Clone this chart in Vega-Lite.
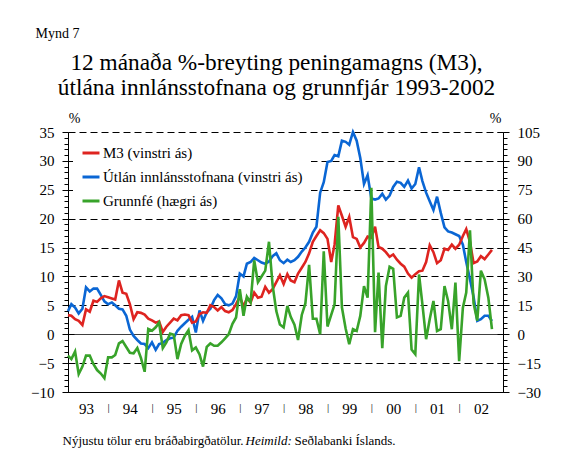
{
  "$schema": "https://vega.github.io/schema/vega-lite/v6.json",
  "width": 435,
  "height": 260,
  "autosize": {"type": "none"},
  "padding": {"left": 68, "top": 132, "right": 59, "bottom": 63},
  "background": "white",
  "title": {
    "text": ["12 mánaða %-breyting peningamagns (M3),", "útlána innlánsstofnana og grunnfjár 1993-2002"],
    "font": "Liberation Serif",
    "fontSize": 23.3,
    "fontWeight": "normal",
    "color": "black",
    "anchor": "middle",
    "frame": "group",
    "lineHeight": 25,
    "dx": -9,
    "dy": 74,
    "offset": 0
  },
  "config": {
    "font": "Liberation Serif",
    "view": {"stroke": null},
    "axis": {
      "labelFont": "Liberation Serif",
      "titleFont": "Liberation Serif",
      "labelColor": "black",
      "titleColor": "black",
      "domainColor": "black",
      "tickColor": "black",
      "labelFontSize": 15,
      "titleFontWeight": "normal",
      "labelOverlap": false,
      "labelFlush": false,
      "labelBound": false
    }
  },
  "data": {
    "values": [
      {"d":"1993-02-01","u":4.0,"m":3.3,"g":-11.1},
      {"d":"1993-03-01","u":5.2,"m":3.2,"g":-12.9},
      {"d":"1993-04-01","u":4.6,"m":2.6,"g":-9},
      {"d":"1993-05-01","u":3.6,"m":2.3,"g":-20.7},
      {"d":"1993-06-01","u":4.4,"m":1.6,"g":-16.8},
      {"d":"1993-07-01","u":8.1,"m":4.3,"g":-11.1},
      {"d":"1993-08-01","u":7.4,"m":3.9,"g":-11.1},
      {"d":"1993-09-01","u":7.9,"m":5.8,"g":-15.6},
      {"d":"1993-10-01","u":7.9,"m":5.6,"g":-18.6},
      {"d":"1993-11-01","u":6.8,"m":6.2,"g":-20.4},
      {"d":"1993-12-01","u":5.7,"m":6.6,"g":-22.8},
      {"d":"1994-01-01","u":5.2,"m":6.4,"g":-12},
      {"d":"1994-02-01","u":5.5,"m":6.2,"g":-12},
      {"d":"1994-03-01","u":5.0,"m":6.0,"g":-10.8},
      {"d":"1994-04-01","u":4.4,"m":9.3,"g":-4.8},
      {"d":"1994-05-01","u":4.3,"m":7.2,"g":-3.6},
      {"d":"1994-06-01","u":3.2,"m":7.0,"g":-6.6},
      {"d":"1994-07-01","u":0.8,"m":5.2,"g":-9.6},
      {"d":"1994-08-01","u":-0.3,"m":2.6,"g":-9.9},
      {"d":"1994-09-01","u":-1.0,"m":3.8,"g":-7.2},
      {"d":"1994-10-01","u":-1.6,"m":3.7,"g":-12.3},
      {"d":"1994-11-01","u":-1.7,"m":3.4,"g":-19.5},
      {"d":"1994-12-01","u":-2.4,"m":2.7,"g":2.7},
      {"d":"1995-01-01","u":-1.4,"m":2.4,"g":1.8},
      {"d":"1995-02-01","u":-2.7,"m":2.0,"g":3.6},
      {"d":"1995-03-01","u":-1.7,"m":2.2,"g":6},
      {"d":"1995-04-01","u":-1.5,"m":0.4,"g":-7.2},
      {"d":"1995-05-01","u":-1.0,"m":1.3,"g":-4.2},
      {"d":"1995-06-01","u":-0.7,"m":2.0,"g":0.3},
      {"d":"1995-07-01","u":-0.6,"m":2.7,"g":-0.3},
      {"d":"1995-08-01","u":0.6,"m":2.4,"g":-12.9},
      {"d":"1995-09-01","u":1.3,"m":3.3,"g":-5.1},
      {"d":"1995-10-01","u":1.9,"m":3.4,"g":-0.9},
      {"d":"1995-11-01","u":2.5,"m":3.3,"g":2.1},
      {"d":"1995-12-01","u":3.0,"m":2.0,"g":-8.4},
      {"d":"1996-01-01","u":0.3,"m":2.2,"g":-6.9},
      {"d":"1996-02-01","u":4.1,"m":3.5,"g":-10.5},
      {"d":"1996-03-01","u":2.3,"m":3.8,"g":-16.8},
      {"d":"1996-04-01","u":3.8,"m":3.7,"g":-6.6},
      {"d":"1996-05-01","u":4.4,"m":5.0,"g":-4.8},
      {"d":"1996-06-01","u":5.9,"m":4.7,"g":-6},
      {"d":"1996-07-01","u":6.8,"m":4.1,"g":-6},
      {"d":"1996-08-01","u":6.2,"m":4.7,"g":-4.2},
      {"d":"1996-09-01","u":5.2,"m":4.0,"g":-2.1},
      {"d":"1996-10-01","u":5.0,"m":3.8,"g":0},
      {"d":"1996-11-01","u":5.3,"m":4.2,"g":5.4},
      {"d":"1996-12-01","u":6.6,"m":5.2,"g":8.7},
      {"d":"1997-01-01","u":10.5,"m":6.5,"g":23.4},
      {"d":"1997-02-01","u":10.0,"m":4.8,"g":9.6},
      {"d":"1997-03-01","u":12.2,"m":6.2,"g":19.5},
      {"d":"1997-04-01","u":12.5,"m":5.5,"g":16.5},
      {"d":"1997-05-01","u":13.2,"m":7.2,"g":38.4},
      {"d":"1997-06-01","u":12.8,"m":6.3,"g":27},
      {"d":"1997-07-01","u":12.4,"m":6.5,"g":30},
      {"d":"1997-08-01","u":12.2,"m":8.2,"g":33},
      {"d":"1997-09-01","u":12.6,"m":7.2,"g":48},
      {"d":"1997-10-01","u":13.5,"m":7.8,"g":25.5},
      {"d":"1997-11-01","u":14.0,"m":9.0,"g":12},
      {"d":"1997-12-01","u":12.8,"m":10.2,"g":5},
      {"d":"1998-01-01","u":12.3,"m":8.7,"g":3.5},
      {"d":"1998-02-01","u":12.9,"m":10.4,"g":14.7},
      {"d":"1998-03-01","u":12.5,"m":9.3,"g":9},
      {"d":"1998-04-01","u":12.8,"m":9.0,"g":5},
      {"d":"1998-05-01","u":13.4,"m":10.5,"g":-3},
      {"d":"1998-06-01","u":14.3,"m":11.5,"g":10},
      {"d":"1998-07-01","u":15.0,"m":12.5,"g":16},
      {"d":"1998-08-01","u":16.0,"m":14.0,"g":36},
      {"d":"1998-09-01","u":17.6,"m":16.0,"g":8},
      {"d":"1998-10-01","u":18.6,"m":17.0,"g":8},
      {"d":"1998-11-01","u":24.5,"m":18.0,"g":0},
      {"d":"1998-12-01","u":26.3,"m":17.5,"g":43},
      {"d":"1999-01-01","u":29.8,"m":16.5,"g":4},
      {"d":"1999-02-01","u":30.0,"m":12.5,"g":10},
      {"d":"1999-03-01","u":31.0,"m":15.5,"g":15.5},
      {"d":"1999-04-01","u":30.8,"m":22.3,"g":61},
      {"d":"1999-05-01","u":33.5,"m":20.5,"g":14},
      {"d":"1999-06-01","u":33.3,"m":18.6,"g":3},
      {"d":"1999-07-01","u":32.8,"m":20.3,"g":-5.2},
      {"d":"1999-08-01","u":35.0,"m":16.8,"g":2.6},
      {"d":"1999-09-01","u":33.5,"m":16.5,"g":1.7},
      {"d":"1999-10-01","u":30.5,"m":15.0,"g":9.5},
      {"d":"1999-11-01","u":26.0,"m":15.8,"g":25},
      {"d":"1999-12-01","u":27.5,"m":16.9,"g":19},
      {"d":"2000-01-01","u":23.5,"m":16.7,"g":76},
      {"d":"2000-02-01","u":23.3,"m":18.6,"g":1},
      {"d":"2000-03-01","u":23.5,"m":15.1,"g":32},
      {"d":"2000-04-01","u":24.3,"m":14.8,"g":-7.3},
      {"d":"2000-05-01","u":23.3,"m":14.2,"g":25},
      {"d":"2000-06-01","u":24.0,"m":13.4,"g":35},
      {"d":"2000-07-01","u":25.5,"m":13.8,"g":34},
      {"d":"2000-08-01","u":26.4,"m":12.9,"g":8.7},
      {"d":"2000-09-01","u":26.2,"m":12.2,"g":9.5},
      {"d":"2000-10-01","u":25.5,"m":11.7,"g":19},
      {"d":"2000-11-01","u":26.6,"m":10.5,"g":21.6},
      {"d":"2000-12-01","u":25.2,"m":9.8,"g":-8},
      {"d":"2001-01-01","u":26.0,"m":10.4,"g":-10.4},
      {"d":"2001-02-01","u":28.9,"m":10.9,"g":31},
      {"d":"2001-03-01","u":26.5,"m":11.0,"g":15.6},
      {"d":"2001-04-01","u":24.5,"m":12.5,"g":-2.6},
      {"d":"2001-05-01","u":23.0,"m":15.4,"g":7.8},
      {"d":"2001-06-01","u":21.5,"m":14.2,"g":17.3},
      {"d":"2001-07-01","u":23.8,"m":12.3,"g":1.7},
      {"d":"2001-08-01","u":21.0,"m":12.8,"g":2.6},
      {"d":"2001-09-01","u":18.5,"m":14.8,"g":25},
      {"d":"2001-10-01","u":17.8,"m":14.6,"g":17.3},
      {"d":"2001-11-01","u":17.6,"m":15.5,"g":2.6},
      {"d":"2001-12-01","u":17.3,"m":14.8,"g":26.8},
      {"d":"2002-01-01","u":17.0,"m":15.5,"g":-14},
      {"d":"2002-02-01","u":15.5,"m":17.0,"g":13.8},
      {"d":"2002-03-01","u":12.5,"m":18.2,"g":21.6},
      {"d":"2002-04-01","u":9.5,"m":16.0,"g":54},
      {"d":"2002-05-01","u":6.5,"m":12.3,"g":16},
      {"d":"2002-06-01","u":2.3,"m":12.6,"g":7},
      {"d":"2002-07-01","u":2.6,"m":13.5,"g":33},
      {"d":"2002-08-01","u":3.2,"m":13.0,"g":28.5},
      {"d":"2002-09-01","u":3.2,"m":13.8,"g":19},
      {"d":"2002-10-01","u":2.3,"m":14.6,"g":2.6}
    ]
  },
  "resolve": {"scale": {"y": "independent"}, "axis": {"x": "independent", "y": "independent"}},
  "layer": [
    {
      "mark": {"type": "line", "strokeWidth": 2.6},
      "encoding": {
        "x": {"field": "d", "type": "temporal",
          "scale": {"type": "utc", "domain": [{"year":1993,"month":2,"date":1,"utc":true},{"year":2003,"month":1,"date":1,"utc":true}]},
          "axis": {"orient": "top", "labels": false, "ticks": false, "domain": false, "grid": false,
            "title": "Mynd 7", "titleFont": "Liberation Serif", "titleFontSize": 14, "titleX": -33, "titleY": -95, "titleAlign": "left", "titleBaseline": "alphabetic", "titleAngle": 0}},
        "y": {"field": "u", "type": "quantitative",
          "scale": {"domain": [-10, 35], "nice": false, "zero": false},
          "axis": {"orient": "left", "values": [-10,-5,0,5,10,15,20,25,30,35], "tickSize": -6, "labels": false, "domain": false,
            "grid": true, "gridColor": "black", "gridWidth": 1,
            "gridDash": {"condition": {"test": "datum.value === 0", "value": [1, 0]}, "value": [7, 4]},
            "title": null}},
        "color": {"datum": "Útlán innlánsstofnana (vinstri ás)", "type": "nominal",
          "scale": {"domain": ["M3 (vinstri ás)", "Útlán innlánsstofnana (vinstri ás)", "Grunnfé (hægri ás)"], "range": ["#de2420", "#0a66d4", "#38a32a"]},
          "legend": {"orient": "none", "legendX": 5, "legendY": 3, "title": null, "symbolType": "stroke", "symbolSize": 289, "symbolStrokeWidth": 3,
            "labelFont": "Liberation Serif", "labelFontSize": 15, "labelColor": "black", "labelLimit": 500, "labelOffset": 2,
            "fillColor": "white", "padding": 8, "rowPadding": 6}}
      }
    },
    {
      "mark": {"type": "line", "strokeWidth": 2.6},
      "encoding": {
        "x": {"field": "d", "type": "temporal",
          "scale": {"type": "utc", "domain": [{"year":1993,"month":2,"date":1,"utc":true},{"year":2003,"month":1,"date":1,"utc":true}]},
          "axis": {"orient": "bottom", "ticks": false, "domain": true, "grid": false,
            "values": [
              {"year":1993,"month":7,"date":1,"utc":true},{"year":1994,"month":1,"date":1,"utc":true},
              {"year":1994,"month":7,"date":1,"utc":true},{"year":1995,"month":1,"date":1,"utc":true},
              {"year":1995,"month":7,"date":1,"utc":true},{"year":1996,"month":1,"date":1,"utc":true},
              {"year":1996,"month":7,"date":1,"utc":true},{"year":1997,"month":1,"date":1,"utc":true},
              {"year":1997,"month":7,"date":1,"utc":true},{"year":1998,"month":1,"date":1,"utc":true},
              {"year":1998,"month":7,"date":1,"utc":true},{"year":1999,"month":1,"date":1,"utc":true},
              {"year":1999,"month":7,"date":1,"utc":true},{"year":2000,"month":1,"date":1,"utc":true},
              {"year":2000,"month":7,"date":1,"utc":true},{"year":2001,"month":1,"date":1,"utc":true},
              {"year":2001,"month":7,"date":1,"utc":true},{"year":2002,"month":1,"date":1,"utc":true},
              {"year":2002,"month":7,"date":1,"utc":true}
            ],
            "labelExpr": "utcmonth(datum.value) === 0 ? '|' : utcFormat(datum.value, '%y')",
            "labelFont": "Liberation Serif",
            "labelFontSize": {"condition": {"test": "utcmonth(datum.value) === 0", "value": 11}, "value": 15},
            "labelPadding": 9,
            "title": "Nýjustu tölur eru bráðabirgðatölur.", "titleFont": "Liberation Serif", "titleFontSize": 13, "titleX": -6, "titleY": 52,
            "titleAlign": "left", "titleBaseline": "alphabetic"}},
        "y": {"field": "m", "type": "quantitative",
          "scale": {"domain": [-10, 35], "nice": false, "zero": false},
          "axis": {"orient": "left",
            "values": [-10,-9,-8,-7,-6,-5,-4,-3,-2,-1,0,1,2,3,4,5,6,7,8,9,10,11,12,13,14,15,16,17,18,19,20,21,22,23,24,25,26,27,28,29,30,31,32,33,34,35],
            "tickSize": {"condition": {"test": "datum.value % 5 === 0", "value": 6}, "value": 4},
            "labelExpr": "datum.value % 5 === 0 ? datum.label : ''",
            "labelFont": "Liberation Serif",
            "labelPadding": 8, "grid": false, "domain": true,
            "title": "%", "titleFont": "Liberation Serif", "titleFontSize": 14, "titleAngle": 0, "titleX": 6, "titleY": -10, "titleAlign": "center", "titleBaseline": "alphabetic"}},
        "color": {"datum": "M3 (vinstri ás)", "type": "nominal"}
      }
    },
    {
      "mark": {"type": "line", "strokeWidth": 2.6},
      "encoding": {
        "x": {"field": "d", "type": "temporal",
          "scale": {"type": "utc", "domain": [{"year":1993,"month":2,"date":1,"utc":true},{"year":2003,"month":1,"date":1,"utc":true}]},
          "axis": {"orient": "bottom", "labels": false, "ticks": false, "domain": false, "grid": false,
            "title": "Heimild:", "titleFont": "Liberation Serif", "titleFontStyle": "italic", "titleFontSize": 13, "titleX": 177, "titleY": 52,
            "titleAlign": "left", "titleBaseline": "alphabetic"}},
        "y": {"field": "g", "type": "quantitative",
          "scale": {"domain": [-30, 105], "nice": false, "zero": false},
          "axis": {"orient": "right",
            "values": [-30,-27,-24,-21,-18,-15,-12,-9,-6,-3,0,3,6,9,12,15,18,21,24,27,30,33,36,39,42,45,48,51,54,57,60,63,66,69,72,75,78,81,84,87,90,93,96,99,102,105],
            "tickSize": {"condition": {"test": "datum.value % 15 === 0", "value": 6}, "value": 4},
            "labelExpr": "datum.value % 15 === 0 ? datum.label : ''",
            "labelFont": "Liberation Serif",
            "labelPadding": 8, "grid": false, "domain": true,
            "title": "%", "titleFont": "Liberation Serif", "titleFontSize": 14, "titleAngle": 0, "titleX": -8, "titleY": -10, "titleAlign": "center", "titleBaseline": "alphabetic"}},
        "color": {"datum": "Grunnfé (hægri ás)", "type": "nominal"}
      }
    },
    {
      "mark": {"type": "point", "opacity": 0},
      "encoding": {
        "x": {"field": "d", "type": "temporal",
          "scale": {"type": "utc", "domain": [{"year":1993,"month":2,"date":1,"utc":true},{"year":2003,"month":1,"date":1,"utc":true}]},
          "axis": {"orient": "bottom", "labels": false, "ticks": false, "domain": false, "grid": false,
            "title": "Seðlabanki Íslands.", "titleFont": "Liberation Serif", "titleFontSize": 13, "titleX": 226, "titleY": 52,
            "titleAlign": "left", "titleBaseline": "alphabetic"}},
        "y": {"field": "g", "type": "quantitative",
          "scale": {"domain": [-30, 105], "nice": false, "zero": false},
          "axis": {"orient": "right", "values": [-30,-15,0,15,30,45,60,75,90,105], "tickSize": -6, "labels": false, "domain": false, "grid": false, "title": null}}
      }
    }
  ]
}
